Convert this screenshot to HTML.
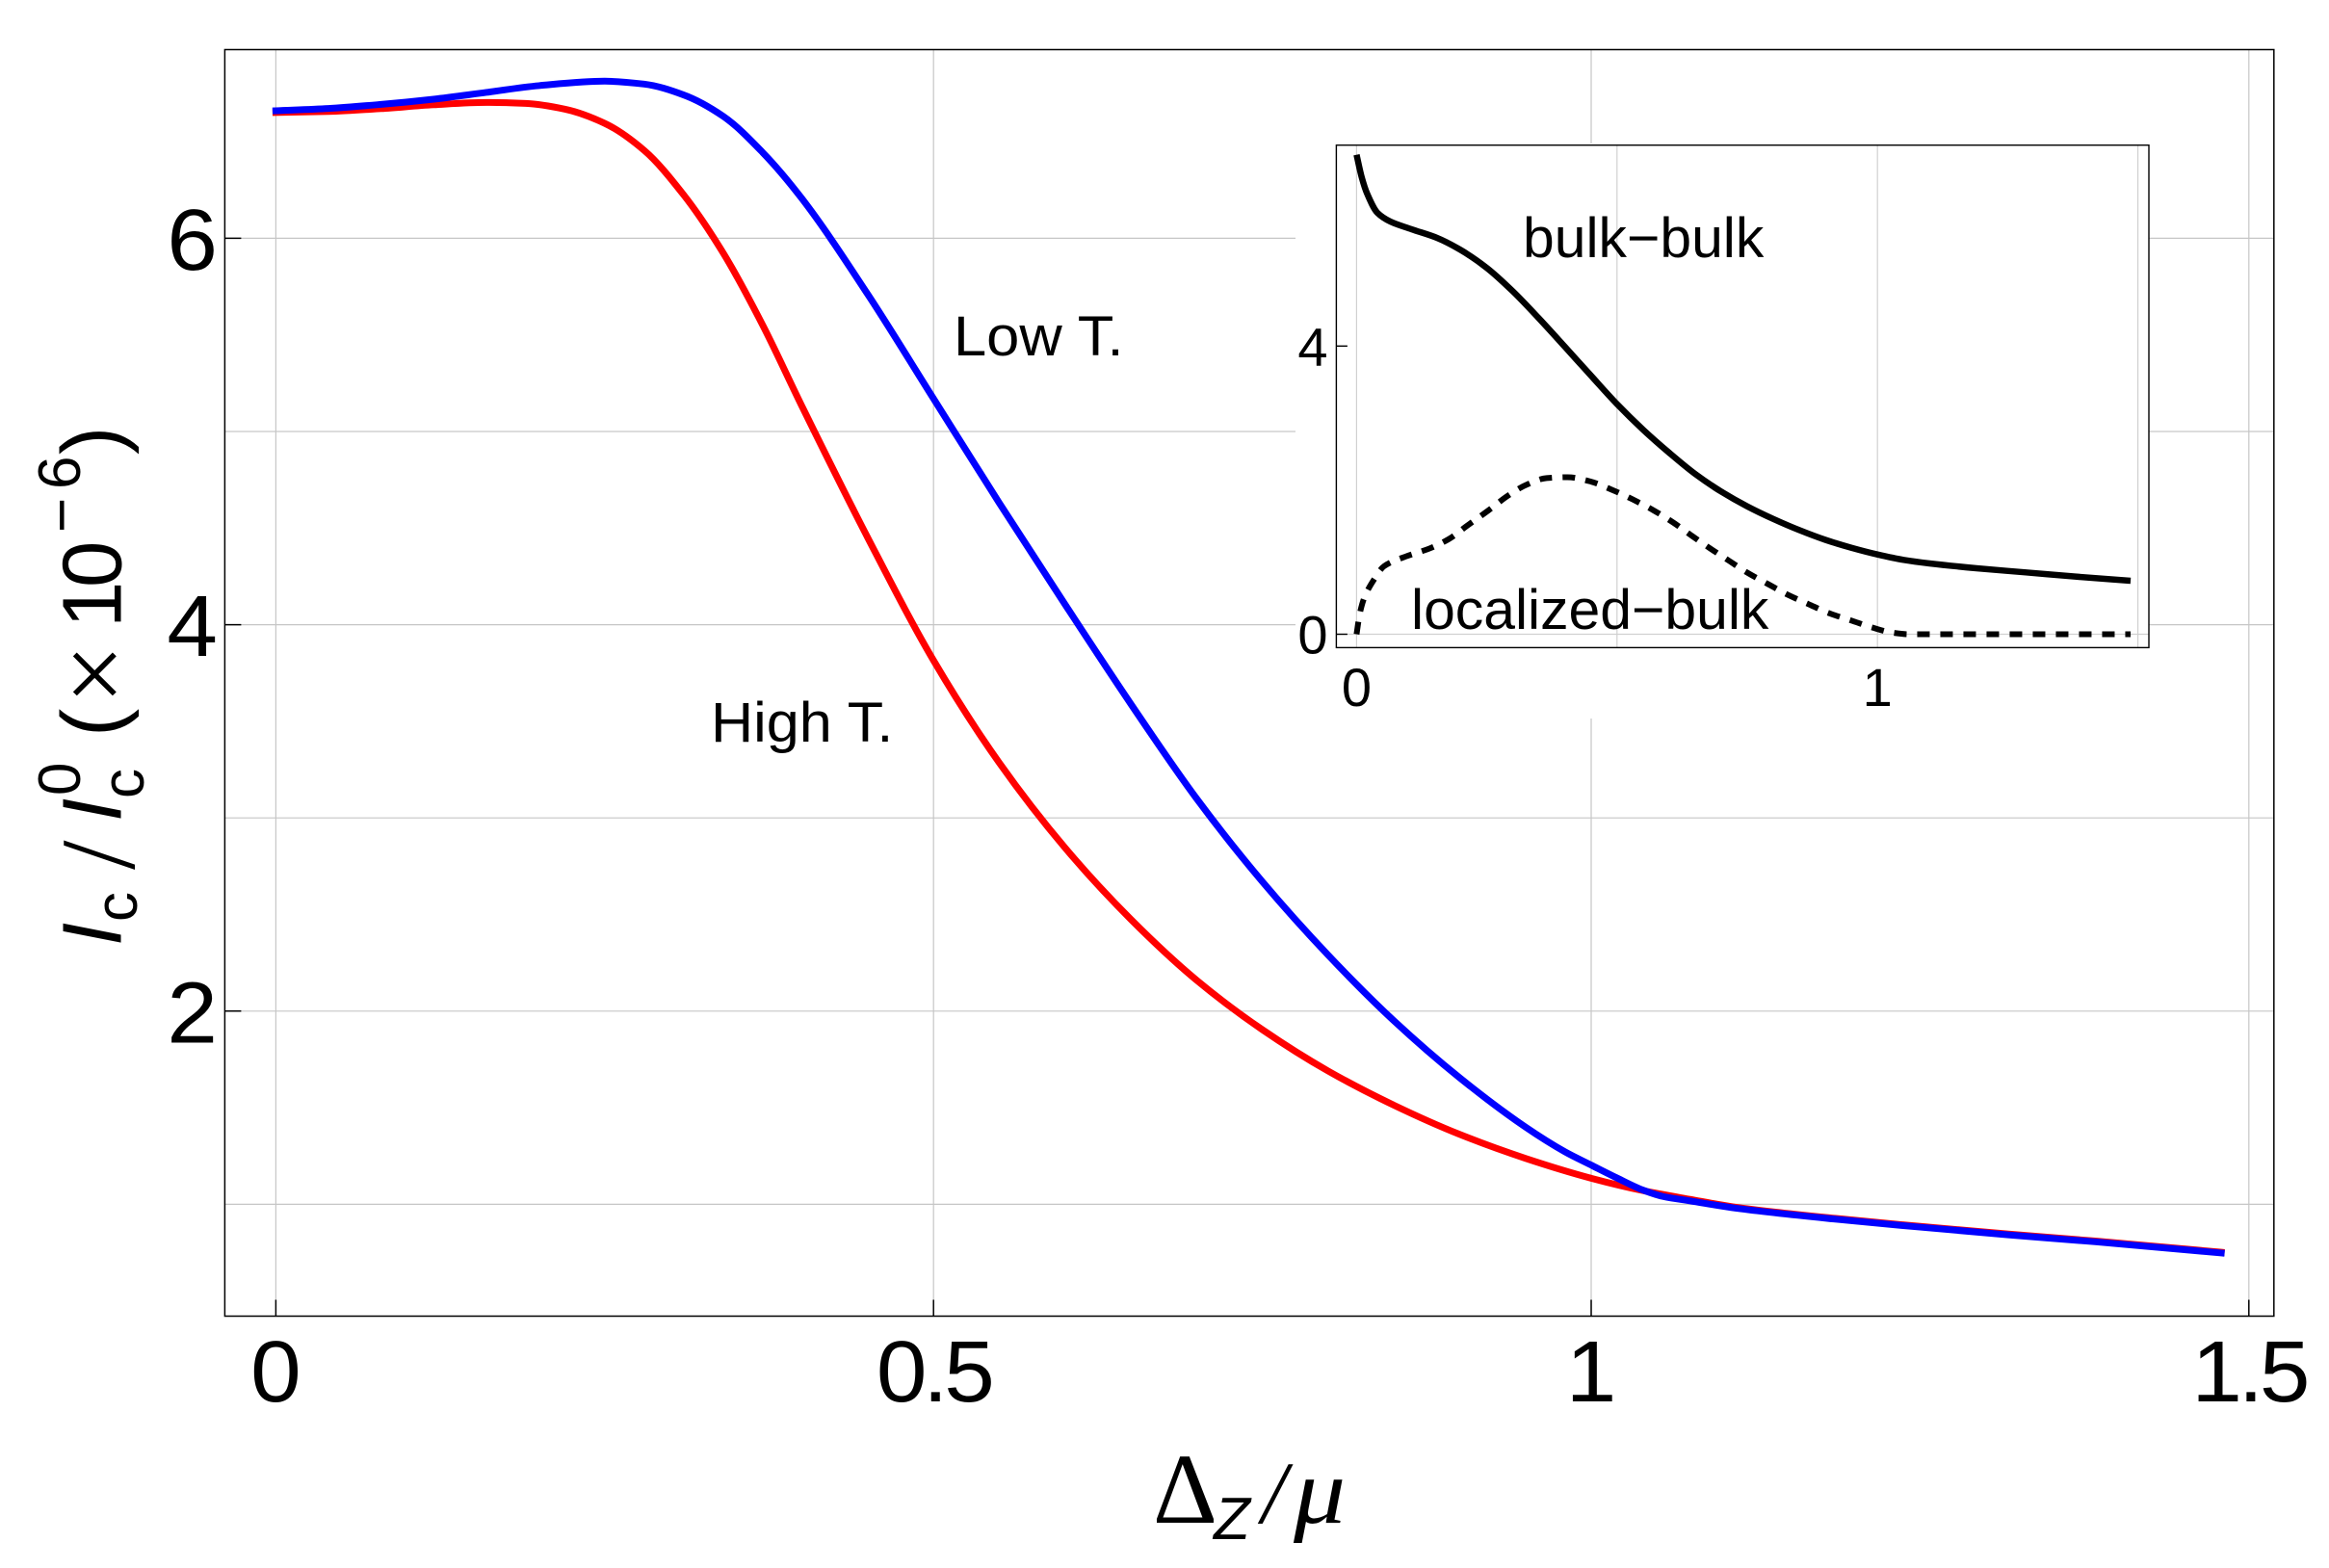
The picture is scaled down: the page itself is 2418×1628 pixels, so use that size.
<!DOCTYPE html>
<html lang="en">
<head>
<meta charset="utf-8">
<title>Critical current vs Zeeman field</title>
<style>
html,body{margin:0;padding:0;background:#fff;}
svg{display:block;position:absolute;left:0;top:0;}
text{font-family:"Liberation Sans",sans-serif;fill:#000;}
.it{font-style:italic;}
.serif{font-family:"Liberation Serif",serif;}
</style>
</head>
<body>
<svg id="chart" xmlns="http://www.w3.org/2000/svg" width="2418" height="1628" viewBox="0 0 2418 1628">
  <rect x="0" y="0" width="2418" height="1628" fill="#fff"/>
  <g id="main-grid"></g>
  <rect x="1345" y="149" width="886" height="597" fill="#fff"/>
  <g id="main-marks"></g>
  <g id="main-axes"></g>
  <g id="inset"></g>

  <text transform="translate(990,369) scale(1.06,1)" font-size="58">Low T.</text>
  <text transform="translate(738,770) scale(1.055,1)" font-size="58">High T.</text>
  <text transform="translate(1581,267) scale(1.015,1)" font-size="58">bulk−bulk</text>
  <text transform="translate(1465,653) scale(1.015,1)" font-size="58">localized−bulk</text>

  <g>
    <text class="serif" x="1197" y="1581" font-size="104">Δ</text>
    <text class="it" x="1260" y="1598" font-size="62">Z</text>
    <text class="serif it" x="1310" y="1581" font-size="92">/</text>
    <text class="serif it" transform="translate(1343,1581) scale(1.1,1)" font-size="98">μ</text>
  </g>

  <g>
    <text class="it" transform="translate(125.5,982) rotate(-90)" font-size="87">I</text>
    <text transform="translate(142,957) rotate(-90)" font-size="62">c</text>
    <text class="serif" transform="translate(139,903) rotate(-90)" font-size="110">/</text>
    <text class="it" transform="translate(125.5,853) rotate(-90)" font-size="87">I</text>
    <text transform="translate(149,829) rotate(-90)" font-size="62">c</text>
    <text transform="translate(83,826) rotate(-90)" font-size="62">0</text>
    <text transform="translate(125.5,765) rotate(-90)" font-size="88">(</text>
    <text class="serif" transform="translate(135,731) rotate(-90)" font-size="110">×</text>
    <text transform="translate(125.5,652) rotate(-90)" font-size="87">1</text>
    <text transform="translate(125.5,610) rotate(-90)" font-size="87">0</text>
    <text transform="translate(85,553) rotate(-90)" font-size="62">−</text>
    <text transform="translate(83,508) rotate(-90)" font-size="62">6</text>
    <text transform="translate(125.5,472) rotate(-90)" font-size="88">)</text>
  </g>
</svg>
<script>
/* Main plot data: x = Delta_Z / mu, y = I_c / I_c^0 (x 10^-6) */
const lowTX = [0,.04,.08,.12,.16,.20,.25,.28,.31,.34,.37,.40,.45,.50,.55,.60,.65,.70,.75,.80,.85,.90,.95,.98,1.0,1.02,1.04,1.055,1.075,1.11,1.1845,1.25,1.3172,1.3832,1.479];
const lowTY = [6.660,6.672,6.693,6.720,6.755,6.790,6.813,6.798,6.742,6.632,6.445,6.205,5.710,5.170,4.630,4.105,3.590,3.100,2.670,2.290,1.950,1.655,1.400,1.272,1.203,1.135,1.072,1.040,1.018,.980,.924,.882,.842,.806,.748];
const highTX = [0,.04,.08,.12,.16,.19,.22,.25,.28,.31,.34,.37,.40,.45,.50,.55,.60,.65,.70,.75,.80,.85,.90,.95,1.0,1.04,1.075,1.11,1.1845,1.25,1.3172,1.3832,1.479];
const highTY = [6.651,6.656,6.671,6.691,6.703,6.698,6.668,6.595,6.455,6.225,5.925,5.552,5.130,4.450,3.815,3.285,2.845,2.475,2.160,1.904,1.690,1.513,1.362,1.238,1.135,1.070,1.026,.985,.928,.886,.846,.810,.752];
const mainXTicks = [0,0.5,1,1.5];
const mainXTickLabels = ['0','0.5','1','1.5'];
const mainYTicks = [2,4,6];
const mainYTickLabels = ['2','4','6'];
const mainYGrid = [1,2,3,4,5,6];

/* Inset data */
const bulkX = [0,.01,.02,.04,.065,.105,.155,.20,.25,.30,.35,.40,.45,.50,.55,.60,.65,.70,.75,.80,.85,.90,.95,1.0,1.05,1.10,1.19,1.285,1.38,1.486];
const bulkY = [6.655,6.34,6.12,5.85,5.728,5.623,5.50,5.333,5.085,4.76,4.385,3.99,3.59,3.195,2.84,2.52,2.225,1.98,1.775,1.60,1.445,1.31,1.20,1.107,1.032,.983,.916,.858,.80,.742];
const localizedX = [0,.006,.015,.032,.053,.094,.14,.177,.212,.2535,.29,.325,.365,.405,.448,.49,.53,.57,.607,.643,.678,.713,.749,.79,.83,.867,.908,.95,.99,1.03,1.06,1.097,1.486];
const localizedY = [0,.28,.51,.742,.945,1.078,1.19,1.32,1.505,1.72,1.92,2.07,2.168,2.18,2.122,2.006,1.872,1.72,1.555,1.37,1.195,1.03,.86,.696,.54,.42,.29,.19,.093,.02,0,0,0];
const insetXGrid = [0,0.5,1,1.5];
const insetXTicks = [0,1];
const insetXTickLabels = ['0','1'];
const insetYTicks = [0,4];
const insetYTickLabels = ['0','4'];
const insetYGrid = [0];

/* Axis functions */
const mainX = v => 286.4 + 1365.6 * v;
const mainY = v => 1250.4 - 200.6 * (v - 1);
const insetX = v => 1408.4 + 540.8 * v;
const insetY = v => 658.5 - 74.8 * v;

const NS = 'http://www.w3.org/2000/svg';
function makeLine(parent, x1, y1, x2, y2, stroke, width) {
  const el = document.createElementNS(NS, 'line');
  el.setAttribute('x1', x1);
  el.setAttribute('y1', y1);
  el.setAttribute('x2', x2);
  el.setAttribute('y2', y2);
  el.setAttribute('stroke', stroke);
  el.setAttribute('stroke-width', width);
  parent.appendChild(el);
  return el;
}
function makeText(parent, x, y, size, anchor, str, sx) {
  const el = document.createElementNS(NS, 'text');
  el.setAttribute('transform', 'translate(' + x + ',' + y + ') scale(' + sx + ',1)');
  el.setAttribute('font-size', size);
  el.setAttribute('text-anchor', anchor);
  el.textContent = str;
  parent.appendChild(el);
  return el;
}
/* Monotone cubic curve through the data, mapped through the axis functions */
function curvePath(xs, ys, fx, fy) {
  const px = xs.map(fx), py = ys.map(fy), n = px.length;
  const sec = [];
  for (let i = 0; i < n - 1; i++) sec.push((py[i + 1] - py[i]) / (px[i + 1] - px[i]));
  const m = [sec[0]];
  for (let i = 1; i < n - 1; i++) {
    m.push(sec[i - 1] * sec[i] <= 0 ? 0 : 2 * sec[i - 1] * sec[i] / (sec[i - 1] + sec[i]));
  }
  m.push(sec[n - 2]);
  let d = 'M' + px[0].toFixed(2) + ' ' + py[0].toFixed(2);
  for (let i = 0; i < n - 1; i++) {
    const h = (px[i + 1] - px[i]) / 3;
    d += ' C' + (px[i] + h).toFixed(2) + ' ' + (py[i] + m[i] * h).toFixed(2) + ' ' +
         (px[i + 1] - h).toFixed(2) + ' ' + (py[i + 1] - m[i + 1] * h).toFixed(2) + ' ' +
         px[i + 1].toFixed(2) + ' ' + py[i + 1].toFixed(2);
  }
  return d;
}
function makeCurve(parent, xs, ys, fx, fy, stroke, width, cap) {
  const el = document.createElementNS(NS, 'path');
  el.setAttribute('d', curvePath(xs, ys, fx, fy));
  el.setAttribute('fill', 'none');
  el.setAttribute('stroke', stroke);
  el.setAttribute('stroke-width', width);
  el.setAttribute('stroke-linejoin', 'round');
  el.setAttribute('stroke-linecap', cap);
  parent.appendChild(el);
  return el;
}

const FL = 233.4, FR = 2360.8, FT = 51.5, FB = 1366.5;
const IL = 1387.4, IR = 2231, IT = 150.7, IB = 672.4;
const gridGroup = document.getElementById('main-grid');
const marksGroup = document.getElementById('main-marks');
const axesGroup = document.getElementById('main-axes');
const insetGroup = document.getElementById('inset');

/* Main grid */
mainXTicks.forEach(v => {
  const el = makeLine(gridGroup, mainX(v), FT, mainX(v), FB, '#c6c6c6', 1.2);
  
  
});
mainYGrid.forEach(v => {
  const el = makeLine(gridGroup, FL, mainY(v), FR, mainY(v), '#c6c6c6', 1.2);
  
  
});

/* Main series */
const highLine = makeCurve(marksGroup, highTX, highTY, mainX, mainY, '#ff0000', 7, 'square');


const lowLine = makeCurve(marksGroup, lowTX, lowTY, mainX, mainY, '#0000ff', 7, 'square');



/* Main frame, ticks and tick labels */
const frame = document.createElementNS(NS, 'rect');
frame.setAttribute('x', FL);
frame.setAttribute('y', FT);
frame.setAttribute('width', FR - FL);
frame.setAttribute('height', FB - FT);
frame.setAttribute('fill', 'none');
frame.setAttribute('stroke', '#000');
frame.setAttribute('stroke-width', 1.5);


axesGroup.appendChild(frame);

mainXTicks.forEach((v, i) => {
  const tick = makeLine(axesGroup, mainX(v), FB, mainX(v), FB - 17, '#000', 1.5);
  
  
  const label = makeText(axesGroup, mainX(v), 1455, 90, 'middle', mainXTickLabels[i], 1.05);
  if (mainXTickLabels[i].length > 1) label.setAttribute('letter-spacing', '-4');
  
  
});
mainYTicks.forEach((v, i) => {
  const tick = makeLine(axesGroup, FL, mainY(v), FL + 17, mainY(v), '#000', 1.5);
  
  
  const label = makeText(axesGroup, 226, mainY(v) + 32.5, 90, 'end', mainYTickLabels[i], 1.05);
  
  
});

/* Inset */
insetXGrid.forEach(v => {
  const el = makeLine(insetGroup, insetX(v), IT, insetX(v), IB, '#d0d0d0', 1.2);
  
  
});
insetYGrid.forEach(v => {
  const el = makeLine(insetGroup, IL, insetY(v), IR, insetY(v), '#d0d0d0', 1.2);
  
  
});
const bulkLine = makeCurve(insetGroup, bulkX, bulkY, insetX, insetY, '#000', 6.5, 'butt');


const localizedLine = makeCurve(insetGroup, localizedX, localizedY, insetX, insetY, '#000', 6, 'butt');
localizedLine.setAttribute('stroke-dasharray', '13 11');



const insetFrame = document.createElementNS(NS, 'rect');
insetFrame.setAttribute('x', IL);
insetFrame.setAttribute('y', IT);
insetFrame.setAttribute('width', IR - IL);
insetFrame.setAttribute('height', IB - IT);
insetFrame.setAttribute('fill', 'none');
insetFrame.setAttribute('stroke', '#000');
insetFrame.setAttribute('stroke-width', 1.4);


insetGroup.appendChild(insetFrame);

insetYTicks.forEach((v, i) => {
  const tick = makeLine(insetGroup, IL, insetY(v), IL + 11.5, insetY(v), '#000', 1.4);
  
  
  const label = makeText(insetGroup, 1378.5, insetY(v) + 20, 56, 'end', insetYTickLabels[i], 1);
  
  
});
insetXTicks.forEach((v, i) => {
  const label = makeText(insetGroup, insetX(v), 733, 56, 'middle', insetXTickLabels[i], 1);
  
  
});
</script>
</body>
</html>
